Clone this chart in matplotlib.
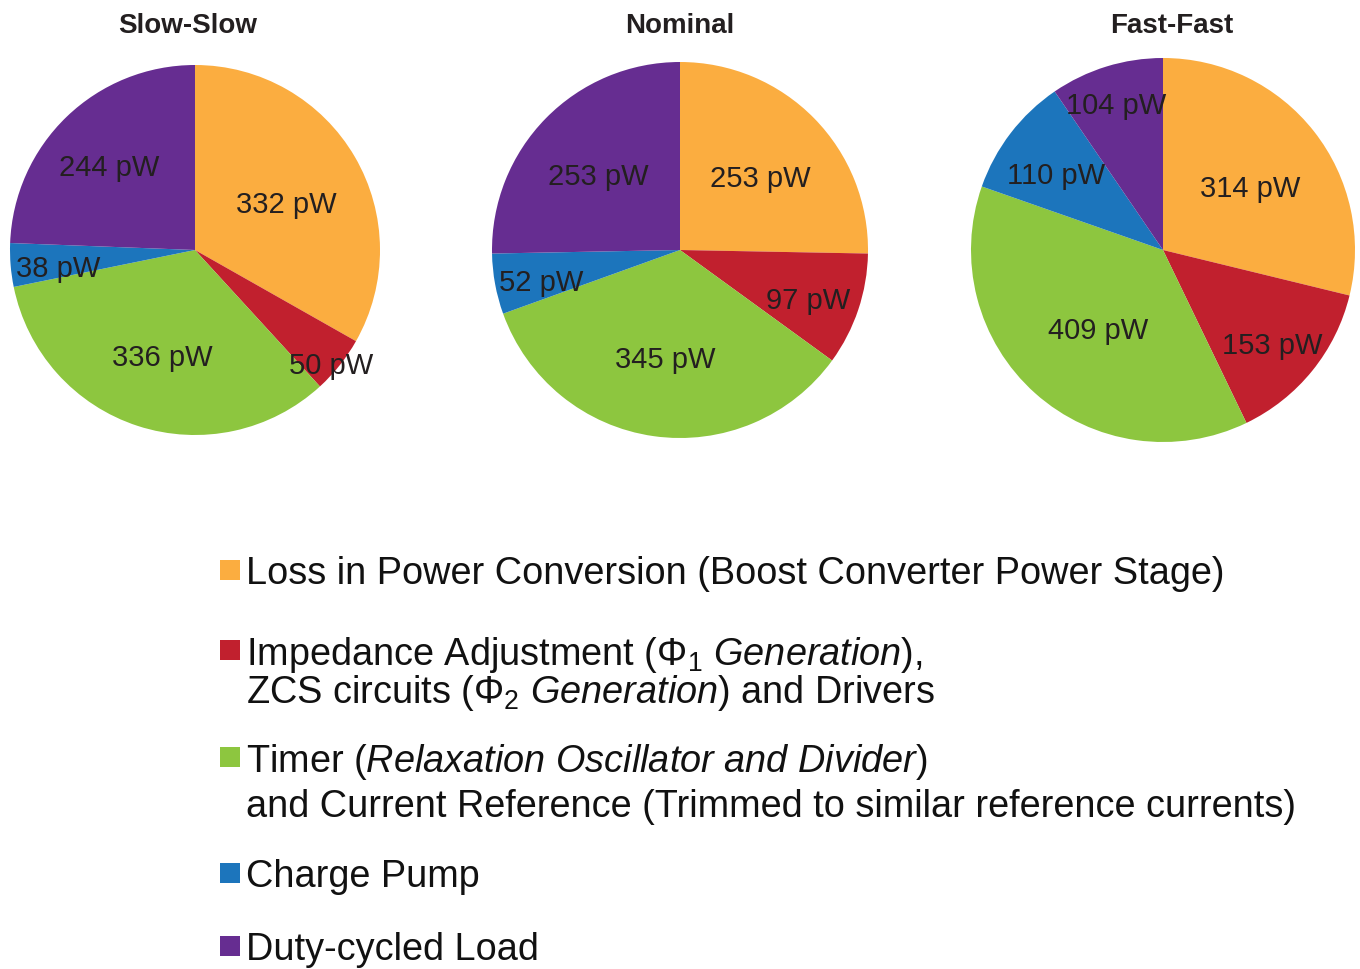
import matplotlib
matplotlib.use('Agg')
import matplotlib.pyplot as plt
import numpy as np
from matplotlib.patches import Rectangle

plt.rcParams['font.family'] = ['Liberation Sans', 'DejaVu Sans']
plt.rcParams['mathtext.fontset'] = 'custom'
plt.rcParams['mathtext.rm'] = 'Liberation Sans'
plt.rcParams['mathtext.it'] = 'Liberation Sans:italic'
plt.rcParams['mathtext.default'] = 'rm'

corners = ['Slow-Slow', 'Nominal', 'Fast-Fast']
slow_slow = [332, 50, 336, 38, 244]
nominal = [253, 97, 345, 52, 253]
fast_fast = [314, 153, 409, 110, 104]
unit = 'pW'

# each legend entry may span two lines
legend_labels = [
    ['Loss in Power Conversion (Boost Converter Power Stage)'],
    ['Impedance Adjustment ($\\Phi_1$ $\\mathit{Generation}$),',
     'ZCS circuits ($\\Phi_2$ $\\mathit{Generation}$) and Drivers'],
    ['Timer ($\\mathit{Relaxation\\ Oscillator\\ and\\ Divider}$)',
     'and Current Reference (Trimmed to similar reference currents)'],
    ['Charge Pump'],
    ['Duty-cycled Load'],
]

colors = ['#FBAD40', '#C1202E', '#8DC63F', '#1C75BC', '#662D91']

W, H = 1360, 969
fig = plt.figure(figsize=(W / 100, H / 100), dpi=100)

# pie geometry in pixels: centre x, centre y (from top), radius
pie_boxes = [(195, 250, 185), (680, 250, 188), (1163, 250, 192)]
title_x = [188, 680, 1172]
# distance of each value label from the centre (fraction of radius)
label_r = [
    [0.57, 0.94, 0.57, 0.74, 0.67],
    [0.60, 0.72, 0.55, 0.75, 0.61],
    [0.58, 0.73, 0.51, 0.70, 0.83],
]

series = [slow_slow, nominal, fast_fast]
for i, vals in enumerate(series):
    cx, cy, r = pie_boxes[i]
    ax = fig.add_axes([(cx - r) / W, 1 - (cy + r) / H, 2 * r / W, 2 * r / H])
    wedges, _ = ax.pie(vals, colors=colors, startangle=90, counterclock=False,
                       radius=1, wedgeprops=dict(linewidth=0))
    ax.set_xlim(-1, 1)
    ax.set_ylim(-1, 1)
    ax.set_aspect('auto')
    ax.axis('off')
    for w, v, d in zip(wedges, vals, label_r[i]):
        ang = np.deg2rad((w.theta1 + w.theta2) / 2)
        ax.text(d * np.cos(ang), d * np.sin(ang) - 0.025, f'{v} {unit}',
                ha='center', va='center_baseline', fontsize=21, color='#231F20')
    fig.text(title_x[i] / W, 1 - 23 / H, corners[i], ha='center',
             va='center_baseline', fontsize=20, fontweight='bold', color='#231F20')

# legend: swatch centre y and y of each text line (pixels from top)
swatch_y = [570, 650, 757, 873, 946]
line_y = [[570], [650, 688], [757, 803], [873], [946]]
for c, lines, y, ly in zip(colors, legend_labels, swatch_y, line_y):
    fig.patches.append(Rectangle((220 / W, 1 - (y + 10) / H), 20 / W, 20 / H,
                                 transform=fig.transFigure, facecolor=c,
                                 edgecolor='none'))
    for txt, ty in zip(lines, ly):
        fig.text(246 / W, 1 - ty / H, txt, ha='left', va='center_baseline',
                 fontsize=27.3, color='#111111')

fig.savefig('out.png', dpi=100)
